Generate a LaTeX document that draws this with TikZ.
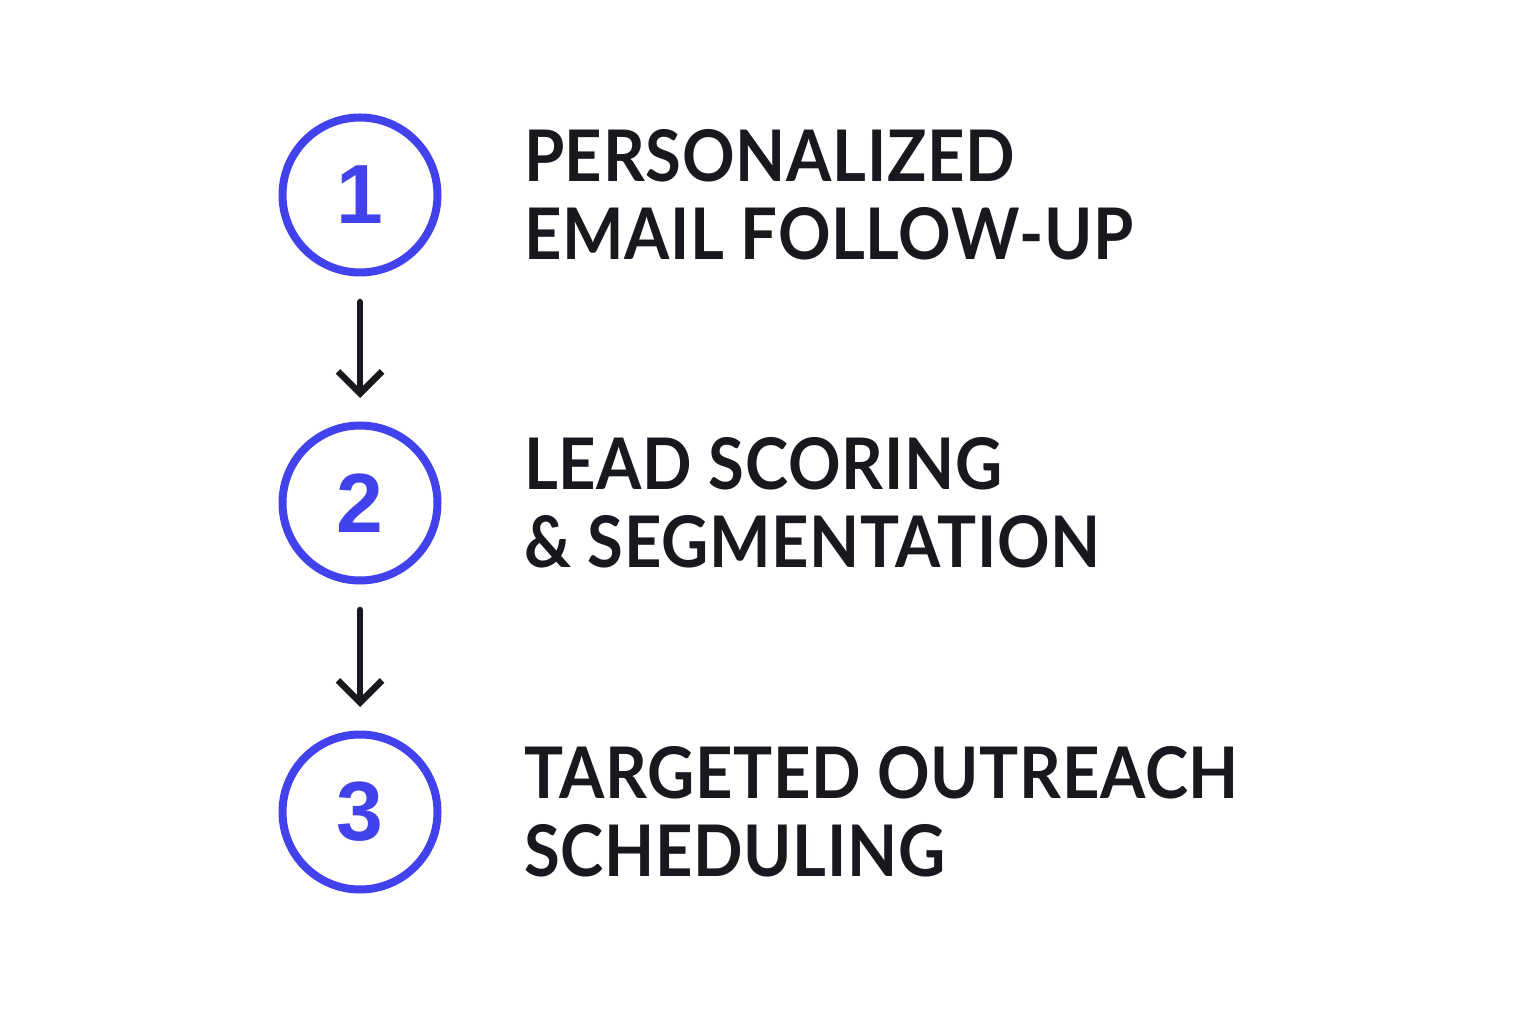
\documentclass[tikz,border=0pt]{standalone}
\usepackage{fontspec}
\setmainfont[FakeStretch=0.915,LetterSpace=1]{Lato}
\newfontfamily\digitfont{Liberation Sans}
\usetikzlibrary{positioning,arrows.meta}
\definecolor{stepblue}{HTML}{4242EC}
\definecolor{inkdark}{HTML}{17191F}

\begin{document}
\begin{tikzpicture}[x=1pt,y=1pt]
\tikzstyle{num}=[circle,draw=stepblue,line width=4pt,minimum size=77.5pt,inner sep=0pt,outer sep=0pt,text=stepblue,font=\digitfont\fontsize{42}{42}\selectfont\bfseries]
\tikzstyle{steptext}=[anchor=west,inner sep=0pt,outer sep=0pt,align=left,text=inkdark,font=\fontsize{35.6}{39}\selectfont\bfseries]
\tikzstyle{flow}=[->,>={Straight Barb[length=11pt,width=22pt]},draw=inkdark,line width=3.25pt,line cap=round,shorten <=14.75pt,shorten >=13.75pt]
\fill[white] (0,0) rectangle (768,512);
\useasboundingbox (0,0) rectangle (768,512);
\node[num] (c1) at (180,414.5) {1};
\node[num] (c2) at (180,260.5) {2};
\node[num] (c3) at (180,106) {3};
\node[steptext,right=43.25pt of c1] (t1) {PERSONALIZED\\EMAIL FOLLOW-UP};
\node[steptext,right=43.25pt of c2] (t2) {LEAD SCORING\\\& SEGMENTATION};
\node[steptext,right=43.25pt of c3] (t3) {TARGETED OUTREACH\\SCHEDULING};
\draw[flow] (c1) -- (c2);
\draw[flow] (c2) -- (c3);
\end{tikzpicture}
\end{document}
